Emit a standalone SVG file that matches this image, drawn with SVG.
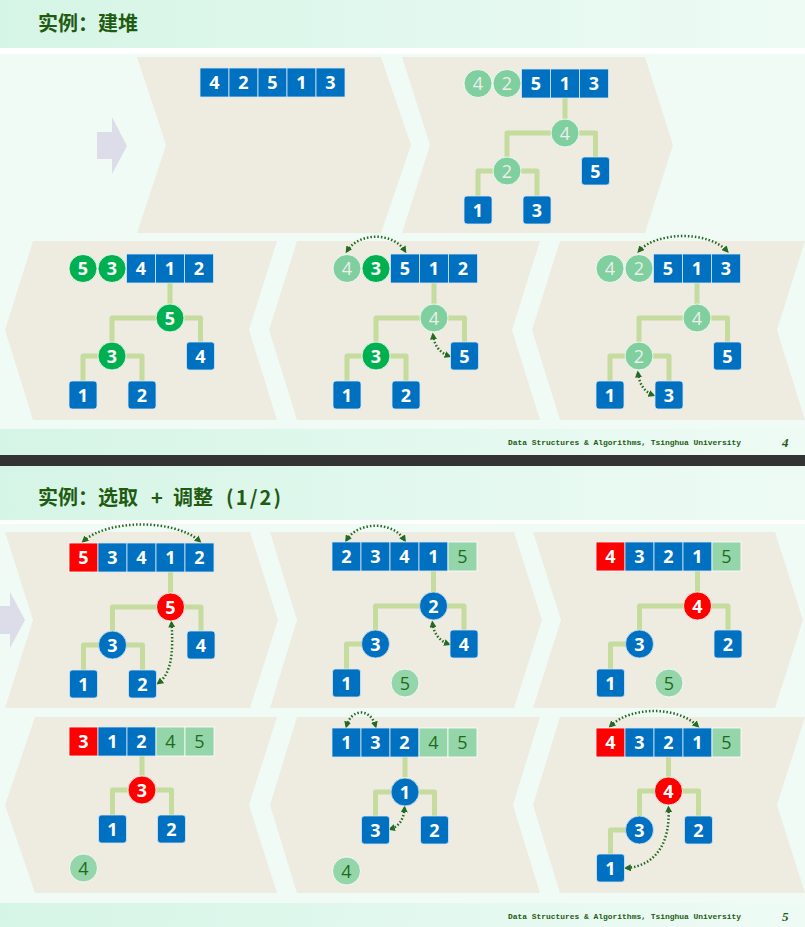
<svg xmlns="http://www.w3.org/2000/svg" width="805" height="927" viewBox="0 0 805 927">
<defs>
<linearGradient id="hdr" x1="0" x2="1" y1="0" y2="0"><stop offset="0" stop-color="#d5f5e6"/><stop offset="1" stop-color="#eefbf5"/></linearGradient>
<marker id="ah" viewBox="0 0 8 8" refX="5" refY="4" markerWidth="7" markerHeight="7" markerUnits="userSpaceOnUse" orient="auto-start-reverse"><path d="M0,0 L8,4 L0,8 Z" fill="#236b23"/></marker>
<style>
.pn{fill:#eeebe1}
.arw{fill:#dcdde8}
.b{fill:#0070c0;stroke:#d6e6f4;stroke-width:0.8}
.r{fill:#ff0000;stroke:#ffffff;stroke-width:0.8}
.g1{fill:#7fcf9f;stroke:#ffffff;stroke-width:0.8}
.g2{fill:#00b050;stroke:#ffffff;stroke-width:0.8}
.g3{fill:#94d6aa;stroke:#ffffff;stroke-width:0.8}
.t{font-family:"Open Sans","Liberation Sans",sans-serif;font-size:18px;font-weight:700;fill:#ffffff;text-anchor:middle}
.tw{font-weight:400;fill:#eeeeee}
.tk{font-weight:400;fill:#1e6b1e}
.ln{fill:none;stroke:#c6db9e;stroke-width:5;stroke-linejoin:round}
.da{fill:none;stroke:#236b23;stroke-width:2.5;stroke-dasharray:1.5 2;marker-start:url(#ah);marker-end:url(#ah)}
.ttl{font-family:"Noto Sans CJK SC","Liberation Sans",sans-serif;font-size:20px;font-weight:700;fill:#1f5c12}
.ft{font-family:"Liberation Mono",monospace;font-size:8px;font-weight:700;fill:#1f5c12}
.pg{font-family:"Liberation Serif",serif;font-size:13px;font-style:italic;font-weight:700;fill:#1f5c12}
</style>
</defs>

<!-- backgrounds -->
<rect x="0" y="0" width="805" height="927" fill="#f1fbf6"/>
<rect x="0" y="0" width="805" height="48" fill="url(#hdr)"/>
<rect x="0" y="48" width="805" height="6" fill="#ffffff"/>
<rect x="0" y="429" width="805" height="26" fill="url(#hdr)"/>
<rect x="0" y="455" width="805" height="11" fill="#333333"/>
<rect x="0" y="466" width="805" height="54" fill="url(#hdr)"/>
<rect x="0" y="520" width="805" height="4" fill="#ffffff"/>
<rect x="0" y="903" width="805" height="24" fill="url(#hdr)"/>

<!-- panels -->
<g id="panels">
<path class="pn" d="M137,57 L381,57 L411,145 L381,233 L137,233 L166,145 Z"/>
<path class="pn" d="M402,57 L645,57 L673,145 L645,233 L402,233 L430,145 Z"/>
<path class="pn" d="M5,330 L33,241 L277,241 L249,330 L277,420 L33,420 Z"/>
<path class="pn" d="M269,330 L297,241 L540,241 L512,330 L540,420 L297,420 Z"/>
<path class="pn" d="M532,330 L560,241 L805,241 L777,330 L805,420 L560,420 Z"/>
<path class="pn" d="M5,532 L250,532 L278,620 L250,708 L5,708 L33,620 Z"/>
<path class="pn" d="M270,532 L514,532 L542,620 L514,708 L270,708 L297,620 Z"/>
<path class="pn" d="M533,532 L775,532 L803,620 L775,708 L533,708 L561,620 Z"/>
<path class="pn" d="M5,805 L35,717 L277,717 L249,805 L277,893 L35,893 Z"/>
<path class="pn" d="M270,805 L297,717 L540,717 L513,805 L540,893 L297,893 Z"/>
<path class="pn" d="M533,805 L560,717 L805,717 L777,805 L805,893 L560,893 Z"/>
</g>
<path class="arw" d="M97,132 L112,132 L112,117 L127,146 L112,174 L112,159 L97,159 Z"/>
<path class="arw" d="M-10,606 L10,606 L10,592 L25,620 L10,648 L10,634 L-10,634 Z"/>

<!-- titles and footers -->
<text class="ttl" x="38" y="31">实例：建堆</text>
<text class="ttl" y="505" xml:space="preserve"><tspan x="38">实例：选取 </tspan><tspan x="151">+ </tspan><tspan x="173">调整 </tspan><tspan x="226" textLength="55" lengthAdjust="spacing">(1/2)</tspan></text>
<text class="ft" x="508" y="445" textLength="233" lengthAdjust="spacingAndGlyphs">Data Structures &amp; Algorithms, Tsinghua University</text>
<text class="pg" x="782" y="447">4</text>
<text class="ft" x="508" y="919" textLength="233" lengthAdjust="spacingAndGlyphs">Data Structures &amp; Algorithms, Tsinghua University</text>
<text class="pg" x="782" y="921">5</text>

<!-- connectors -->
<g id="connectors">
<g transform="translate(478,69)"><path class="ln" d="M87,29 V50 M29,88 V64 H117.5 V88 M0,127 V102 H59 V127"/></g>
<g transform="translate(83,254)"><path class="ln" d="M87,29 V50 M29,88 V64 H117.5 V88 M0,127 V102 H59 V127"/></g>
<g transform="translate(347,254)"><path class="ln" d="M87,29 V50 M29,88 V64 H117.5 V88 M0,127 V102 H59 V127"/>
<path class="da" d="M0,-3 C12,-22 46,-22 58,-3"/><path class="da" d="M86,81 Q88,97 102,102"/></g>
<g transform="translate(610,254)"><path class="ln" d="M87,29 V50 M29,88 V64 H117.5 V88 M0,127 V102 H59 V127"/>
<path class="da" d="M29,-3 C47,-23 99,-23 117,-3"/><path class="da" d="M28,119 Q30,136 43,141"/></g>
<g transform="translate(83.5,543)"><path class="ln" d="M87,29 V50 M29,88 V64 H117.5 V88 M0,127 V102 H59 V127"/>
<path class="da" d="M0,-2 C25,-24 91,-24 116,-2"/><path class="da" d="M88,80 C90,110 88,130 75,140"/></g>
<g transform="translate(346.5,542)"><path class="ln" d="M87,29 V50 M29,88 V64 H117.5 V88 M0,127 V102 H29"/>
<path class="da" d="M0,-2 C12,-21 46,-21 58,-2"/><path class="da" d="M86,81 Q88,97 102,102"/></g>
<g transform="translate(610.5,542)"><path class="ln" d="M87,29 V50 M29,88 V64 H117.5 V88 M0,127 V102 H29"/></g>
<g transform="translate(83.5,727)"><path class="ln" d="M58.5,29 V49 M29,88 V63 H88 V88"/></g>
<g transform="translate(346.5,728)"><path class="ln" d="M58.5,29 V49 M29,88 V64 H88 V88"/>
<path class="da" d="M0,-2 C5,-20 24,-20 29,-2"/><path class="da" d="M58,80 Q57,97 44,101"/></g>
<g transform="translate(610.5,728)"><path class="ln" d="M58,29 V49 M29,88 V63 H88 V88 M0,126 V102 H29"/>
<path class="da" d="M0,-2 C20,-22 67,-22 87,-2"/><path class="da" d="M58,80 C60,115 45,138 16,140"/></g>
</g>

<!-- slide 1 panel 1 -->
<g transform="translate(214.5,68)">
<g id="s1p1-a0"><rect class="b" x="-14.5" y="0" width="29" height="29"/><text class="t" x="0" y="21">4</text></g>
<g id="s1p1-a1"><rect class="b" x="14.5" y="0" width="29" height="29"/><text class="t" x="29" y="21">2</text></g>
<g id="s1p1-a2"><rect class="b" x="43.5" y="0" width="29" height="29"/><text class="t" x="58" y="21">5</text></g>
<g id="s1p1-a3"><rect class="b" x="72.5" y="0" width="29" height="29"/><text class="t" x="87" y="21">1</text></g>
<g id="s1p1-a4"><rect class="b" x="101.5" y="0" width="29" height="29"/><text class="t" x="116" y="21">3</text></g>
</g>

<!-- slide 1 panel 2 -->
<g transform="translate(478,69)">
<g id="s1p2-a0"><circle class="g1" cx="0" cy="14.5" r="14"/><text class="t tw" x="0" y="21">4</text></g>
<g id="s1p2-a1"><circle class="g1" cx="29" cy="14.5" r="14"/><text class="t tw" x="29" y="21">2</text></g>
<g id="s1p2-a2"><rect class="b" x="43.5" y="0" width="29" height="29"/><text class="t" x="58" y="21">5</text></g>
<g id="s1p2-a3"><rect class="b" x="72.5" y="0" width="29" height="29"/><text class="t" x="87" y="21">1</text></g>
<g id="s1p2-a4"><rect class="b" x="101.5" y="0" width="29" height="29"/><text class="t" x="116" y="21">3</text></g>
<g id="s1p2-root"><circle class="g1" cx="87" cy="64" r="14"/><text class="t tw" x="87" y="70.5">4</text></g>
<g id="s1p2-l"><circle class="g1" cx="29" cy="102" r="14"/><text class="t tw" x="29" y="108.5">2</text></g>
<g id="s1p2-r"><rect class="b" x="103.5" y="88" width="28" height="28" rx="3"/><text class="t" x="117.5" y="108.5">5</text></g>
<g id="s1p2-ll"><rect class="b" x="-14" y="127" width="28" height="28" rx="3"/><text class="t" x="0" y="147.5">1</text></g>
<g id="s1p2-lr"><rect class="b" x="45" y="127" width="28" height="28" rx="3"/><text class="t" x="59" y="147.5">3</text></g>
</g>

<!-- slide 1 panel 3 -->
<g transform="translate(83,254)">
<g id="s1p3-a0"><circle class="g2" cx="0" cy="14.5" r="14"/><text class="t" x="0" y="21">5</text></g>
<g id="s1p3-a1"><circle class="g2" cx="29" cy="14.5" r="14"/><text class="t" x="29" y="21">3</text></g>
<g id="s1p3-a2"><rect class="b" x="43.5" y="0" width="29" height="29"/><text class="t" x="58" y="21">4</text></g>
<g id="s1p3-a3"><rect class="b" x="72.5" y="0" width="29" height="29"/><text class="t" x="87" y="21">1</text></g>
<g id="s1p3-a4"><rect class="b" x="101.5" y="0" width="29" height="29"/><text class="t" x="116" y="21">2</text></g>
<g id="s1p3-root"><circle class="g2" cx="87" cy="64" r="14"/><text class="t" x="87" y="70.5">5</text></g>
<g id="s1p3-l"><circle class="g2" cx="29" cy="102" r="14"/><text class="t" x="29" y="108.5">3</text></g>
<g id="s1p3-r"><rect class="b" x="103.5" y="88" width="28" height="28" rx="3"/><text class="t" x="117.5" y="108.5">4</text></g>
<g id="s1p3-ll"><rect class="b" x="-14" y="127" width="28" height="28" rx="3"/><text class="t" x="0" y="147.5">1</text></g>
<g id="s1p3-lr"><rect class="b" x="45" y="127" width="28" height="28" rx="3"/><text class="t" x="59" y="147.5">2</text></g>
</g>

<!-- slide 1 panel 4 -->
<g transform="translate(347,254)">
<g id="s1p4-a0"><circle class="g1" cx="0" cy="14.5" r="14"/><text class="t tw" x="0" y="21">4</text></g>
<g id="s1p4-a1"><circle class="g2" cx="29" cy="14.5" r="14"/><text class="t" x="29" y="21">3</text></g>
<g id="s1p4-a2"><rect class="b" x="43.5" y="0" width="29" height="29"/><text class="t" x="58" y="21">5</text></g>
<g id="s1p4-a3"><rect class="b" x="72.5" y="0" width="29" height="29"/><text class="t" x="87" y="21">1</text></g>
<g id="s1p4-a4"><rect class="b" x="101.5" y="0" width="29" height="29"/><text class="t" x="116" y="21">2</text></g>
<g id="s1p4-root"><circle class="g1" cx="87" cy="64" r="14"/><text class="t tw" x="87" y="70.5">4</text></g>
<g id="s1p4-l"><circle class="g2" cx="29" cy="102" r="14"/><text class="t" x="29" y="108.5">3</text></g>
<g id="s1p4-r"><rect class="b" x="103.5" y="88" width="28" height="28" rx="3"/><text class="t" x="117.5" y="108.5">5</text></g>
<g id="s1p4-ll"><rect class="b" x="-14" y="127" width="28" height="28" rx="3"/><text class="t" x="0" y="147.5">1</text></g>
<g id="s1p4-lr"><rect class="b" x="45" y="127" width="28" height="28" rx="3"/><text class="t" x="59" y="147.5">2</text></g>
</g>

<!-- slide 1 panel 5 -->
<g transform="translate(610,254)">
<g id="s1p5-a0"><circle class="g1" cx="0" cy="14.5" r="14"/><text class="t tw" x="0" y="21">4</text></g>
<g id="s1p5-a1"><circle class="g1" cx="29" cy="14.5" r="14"/><text class="t tw" x="29" y="21">2</text></g>
<g id="s1p5-a2"><rect class="b" x="43.5" y="0" width="29" height="29"/><text class="t" x="58" y="21">5</text></g>
<g id="s1p5-a3"><rect class="b" x="72.5" y="0" width="29" height="29"/><text class="t" x="87" y="21">1</text></g>
<g id="s1p5-a4"><rect class="b" x="101.5" y="0" width="29" height="29"/><text class="t" x="116" y="21">3</text></g>
<g id="s1p5-root"><circle class="g1" cx="87" cy="64" r="14"/><text class="t tw" x="87" y="70.5">4</text></g>
<g id="s1p5-l"><circle class="g1" cx="29" cy="102" r="14"/><text class="t tw" x="29" y="108.5">2</text></g>
<g id="s1p5-r"><rect class="b" x="103.5" y="88" width="28" height="28" rx="3"/><text class="t" x="117.5" y="108.5">5</text></g>
<g id="s1p5-ll"><rect class="b" x="-14" y="127" width="28" height="28" rx="3"/><text class="t" x="0" y="147.5">1</text></g>
<g id="s1p5-lr"><rect class="b" x="45" y="127" width="28" height="28" rx="3"/><text class="t" x="59" y="147.5">3</text></g>
</g>

<!-- slide 2 panel A -->
<g transform="translate(83.5,543)">
<g id="s2pA-a0"><rect class="r" x="-14.5" y="0" width="29" height="29"/><text class="t" x="0" y="21">5</text></g>
<g id="s2pA-a1"><rect class="b" x="14.5" y="0" width="29" height="29"/><text class="t" x="29" y="21">3</text></g>
<g id="s2pA-a2"><rect class="b" x="43.5" y="0" width="29" height="29"/><text class="t" x="58" y="21">4</text></g>
<g id="s2pA-a3"><rect class="b" x="72.5" y="0" width="29" height="29"/><text class="t" x="87" y="21">1</text></g>
<g id="s2pA-a4"><rect class="b" x="101.5" y="0" width="29" height="29"/><text class="t" x="116" y="21">2</text></g>
<g id="s2pA-root"><circle class="r" cx="87" cy="64" r="14"/><text class="t" x="87" y="70.5">5</text></g>
<g id="s2pA-l"><circle class="b" cx="29" cy="102" r="14"/><text class="t" x="29" y="108.5">3</text></g>
<g id="s2pA-r"><rect class="b" x="103.5" y="88" width="28" height="28" rx="3"/><text class="t" x="117.5" y="108.5">4</text></g>
<g id="s2pA-ll"><rect class="b" x="-14" y="127" width="28" height="28" rx="3"/><text class="t" x="0" y="147.5">1</text></g>
<g id="s2pA-lr"><rect class="b" x="45" y="127" width="28" height="28" rx="3"/><text class="t" x="59" y="147.5">2</text></g>
</g>

<!-- slide 2 panel B -->
<g transform="translate(346.5,542)">
<g id="s2pB-a0"><rect class="b" x="-14.5" y="0" width="29" height="29"/><text class="t" x="0" y="21">2</text></g>
<g id="s2pB-a1"><rect class="b" x="14.5" y="0" width="29" height="29"/><text class="t" x="29" y="21">3</text></g>
<g id="s2pB-a2"><rect class="b" x="43.5" y="0" width="29" height="29"/><text class="t" x="58" y="21">4</text></g>
<g id="s2pB-a3"><rect class="b" x="72.5" y="0" width="29" height="29"/><text class="t" x="87" y="21">1</text></g>
<g id="s2pB-a4"><rect class="g3" x="101.5" y="0" width="29" height="29"/><text class="t tk" x="116" y="21">5</text></g>
<g id="s2pB-root"><circle class="b" cx="87" cy="64" r="14"/><text class="t" x="87" y="70.5">2</text></g>
<g id="s2pB-l"><circle class="b" cx="29" cy="102" r="14"/><text class="t" x="29" y="108.5">3</text></g>
<g id="s2pB-r"><rect class="b" x="103.5" y="88" width="28" height="28" rx="3"/><text class="t" x="117.5" y="108.5">4</text></g>
<g id="s2pB-ll"><rect class="b" x="-14" y="127" width="28" height="28" rx="3"/><text class="t" x="0" y="147.5">1</text></g>
<g id="s2pB-out"><circle class="g3" cx="58.5" cy="141" r="14"/><text class="t tk" x="58.5" y="147.5">5</text></g>
</g>

<!-- slide 2 panel C -->
<g transform="translate(610.5,542)">
<g id="s2pC-a0"><rect class="r" x="-14.5" y="0" width="29" height="29"/><text class="t" x="0" y="21">4</text></g>
<g id="s2pC-a1"><rect class="b" x="14.5" y="0" width="29" height="29"/><text class="t" x="29" y="21">3</text></g>
<g id="s2pC-a2"><rect class="b" x="43.5" y="0" width="29" height="29"/><text class="t" x="58" y="21">2</text></g>
<g id="s2pC-a3"><rect class="b" x="72.5" y="0" width="29" height="29"/><text class="t" x="87" y="21">1</text></g>
<g id="s2pC-a4"><rect class="g3" x="101.5" y="0" width="29" height="29"/><text class="t tk" x="116" y="21">5</text></g>
<g id="s2pC-root"><circle class="r" cx="87" cy="64" r="14"/><text class="t" x="87" y="70.5">4</text></g>
<g id="s2pC-l"><circle class="b" cx="29" cy="102" r="14"/><text class="t" x="29" y="108.5">3</text></g>
<g id="s2pC-r"><rect class="b" x="103.5" y="88" width="28" height="28" rx="3"/><text class="t" x="117.5" y="108.5">2</text></g>
<g id="s2pC-ll"><rect class="b" x="-14" y="127" width="28" height="28" rx="3"/><text class="t" x="0" y="147.5">1</text></g>
<g id="s2pC-out"><circle class="g3" cx="58.5" cy="141" r="14"/><text class="t tk" x="58.5" y="147.5">5</text></g>
</g>

<!-- slide 2 panel D -->
<g transform="translate(83.5,727)">
<g id="s2pD-a0"><rect class="r" x="-14.5" y="0" width="29" height="29"/><text class="t" x="0" y="21">3</text></g>
<g id="s2pD-a1"><rect class="b" x="14.5" y="0" width="29" height="29"/><text class="t" x="29" y="21">1</text></g>
<g id="s2pD-a2"><rect class="b" x="43.5" y="0" width="29" height="29"/><text class="t" x="58" y="21">2</text></g>
<g id="s2pD-a3"><rect class="g3" x="72.5" y="0" width="29" height="29"/><text class="t tk" x="87" y="21">4</text></g>
<g id="s2pD-a4"><rect class="g3" x="101.5" y="0" width="29" height="29"/><text class="t tk" x="116" y="21">5</text></g>
<g id="s2pD-root"><circle class="r" cx="58.5" cy="63" r="14"/><text class="t" x="58.5" y="69.5">3</text></g>
<g id="s2pD-l"><rect class="b" x="15" y="88" width="28" height="28" rx="3"/><text class="t" x="29" y="108.5">1</text></g>
<g id="s2pD-r"><rect class="b" x="74" y="88" width="28" height="28" rx="3"/><text class="t" x="88" y="108.5">2</text></g>
<g id="s2pD-out"><circle class="g3" cx="0" cy="141" r="14"/><text class="t tk" x="0" y="147.5">4</text></g>
</g>

<!-- slide 2 panel E -->
<g transform="translate(346.5,728)">
<g id="s2pE-a0"><rect class="b" x="-14.5" y="0" width="29" height="29"/><text class="t" x="0" y="21">1</text></g>
<g id="s2pE-a1"><rect class="b" x="14.5" y="0" width="29" height="29"/><text class="t" x="29" y="21">3</text></g>
<g id="s2pE-a2"><rect class="b" x="43.5" y="0" width="29" height="29"/><text class="t" x="58" y="21">2</text></g>
<g id="s2pE-a3"><rect class="g3" x="72.5" y="0" width="29" height="29"/><text class="t tk" x="87" y="21">4</text></g>
<g id="s2pE-a4"><rect class="g3" x="101.5" y="0" width="29" height="29"/><text class="t tk" x="116" y="21">5</text></g>
<g id="s2pE-root"><circle class="b" cx="58.5" cy="64" r="14"/><text class="t" x="58.5" y="70.5">1</text></g>
<g id="s2pE-l"><rect class="b" x="15" y="88" width="28" height="28" rx="3"/><text class="t" x="29" y="108.5">3</text></g>
<g id="s2pE-r"><rect class="b" x="74" y="88" width="28" height="28" rx="3"/><text class="t" x="88" y="108.5">2</text></g>
<g id="s2pE-out"><circle class="g3" cx="0" cy="143" r="14"/><text class="t tk" x="0" y="149.5">4</text></g>
</g>

<!-- slide 2 panel F -->
<g transform="translate(610.5,728)">
<g id="s2pF-a0"><rect class="r" x="-14.5" y="0" width="29" height="29"/><text class="t" x="0" y="21">4</text></g>
<g id="s2pF-a1"><rect class="b" x="14.5" y="0" width="29" height="29"/><text class="t" x="29" y="21">3</text></g>
<g id="s2pF-a2"><rect class="b" x="43.5" y="0" width="29" height="29"/><text class="t" x="58" y="21">2</text></g>
<g id="s2pF-a3"><rect class="b" x="72.5" y="0" width="29" height="29"/><text class="t" x="87" y="21">1</text></g>
<g id="s2pF-a4"><rect class="g3" x="101.5" y="0" width="29" height="29"/><text class="t tk" x="116" y="21">5</text></g>
<g id="s2pF-root"><circle class="r" cx="58" cy="63" r="14"/><text class="t" x="58" y="69.5">4</text></g>
<g id="s2pF-l"><circle class="b" cx="29" cy="102" r="14"/><text class="t" x="29" y="108.5">3</text></g>
<g id="s2pF-r"><rect class="b" x="74" y="88" width="28" height="28" rx="3"/><text class="t" x="88" y="108.5">2</text></g>
<g id="s2pF-ll"><rect class="b" x="-14" y="126" width="28" height="28" rx="3"/><text class="t" x="0" y="146.5">1</text></g>
</g>
</svg>
